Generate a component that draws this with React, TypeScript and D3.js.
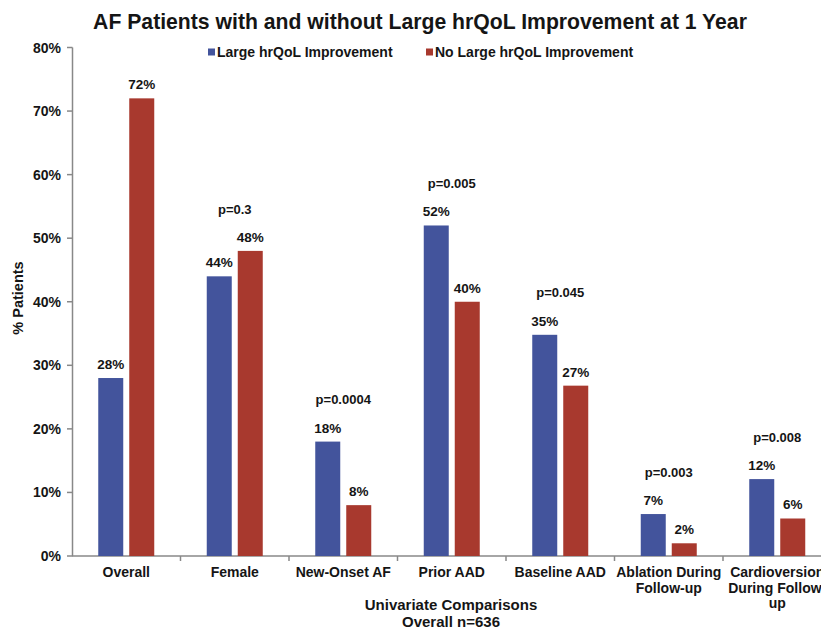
import React from "react";
import * as d3 from "d3";

const categories: string[][] = [
  ["Overall"],
  ["Female"],
  ["New-Onset AF"],
  ["Prior AAD"],
  ["Baseline AAD"],
  ["Ablation During", "Follow-up"],
  ["Cardioversion", "During Follow-", "up"],
];
const largeImprovement = [28, 44, 18, 52, 34.8, 6.6, 12.1];
const noLargeImprovement = [72, 48, 8, 40, 26.8, 2, 5.9];
const largeLabels = ["28%", "44%", "18%", "52%", "35%", "7%", "12%"];
const noLargeLabels = ["72%", "48%", "8%", "40%", "27%", "2%", "6%"];
const pValues = ["", "p=0.3", "p=0.0004", "p=0.005", "p=0.045", "p=0.003", "p=0.008"];
const yTicks = [0, 10, 20, 30, 40, 50, 60, 70, 80];
const seriesNames = ["Large hrQoL Improvement", "No Large hrQoL Improvement"];

const W = 821;
const H = 631;
const BLUE = "#43549c";
const RED = "#a8392e";
const FONT = "Arial, 'Liberation Sans', sans-serif";
const TXT = "#151515";

export default function App() {
  const x0 = 72;
  const band = 108.5;
  const x = d3
    .scaleBand<number>()
    .domain(categories.map((_, i) => i))
    .range([x0, x0 + band * categories.length])
    .paddingInner(0)
    .paddingOuter(0);
  const y = d3.scaleLinear().domain([0, 80]).range([556, 47.5]);
  const barW = 25;
  const gap = 6;

  return (
    <svg
      width={W}
      height={H}
      style={{ position: "absolute", left: 0, top: 0, background: "#fff" }}
      fontFamily={FONT}
    >
      <rect width={W} height={H} fill="#fff" />
      <text x={420} y={29} textAnchor="middle" fontSize={21.2} fontWeight="bold" fill={TXT}>
        AF Patients with and without Large hrQoL Improvement at 1 Year
      </text>

      {/* legend */}
      <g fontSize={14} fontWeight="bold" fill={TXT}>
        <rect x={208} y={48.5} width={7} height={7} fill={BLUE} />
        <text x={217} y={57}>{seriesNames[0]}</text>
        <rect x={426} y={48.5} width={7} height={7} fill={RED} />
        <text x={435} y={57}>{seriesNames[1]}</text>
      </g>

      {/* y axis */}
      <line x1={72.5} x2={72.5} y1={y(80)} y2={y(0)} stroke="#888" strokeWidth={1.5} />
      {yTicks.map((t) => (
        <g key={t}>
          <line x1={67} x2={72.5} y1={y(t)} y2={y(t)} stroke="#888" strokeWidth={1.5} />
          <text x={61} y={y(t) + 5} textAnchor="end" fontSize={14} fontWeight="bold" fill={TXT}>
            {t}%
          </text>
        </g>
      ))}
      <text
        transform={`translate(23,${298}) rotate(-90)`}
        textAnchor="middle"
        fontSize={14.5}
        fontWeight="bold"
        fill={TXT}
      >
        % Patients
      </text>

      {/* x axis */}
      <line x1={72} x2={W} y1={y(0)} y2={y(0)} stroke="#888" strokeWidth={1.5} />
      {categories.map((_, i) => (
        <line
          key={i}
          x1={(x(i) as number) + band}
          x2={(x(i) as number) + band}
          y1={y(0)}
          y2={y(0) + 5}
          stroke="#888"
          strokeWidth={1.5}
        />
      ))}

      {/* bars */}
      {categories.map((lines, i) => {
        const cx = (x(i) as number) + band / 2;
        const bx = cx - gap / 2 - barW;
        const rx = cx + gap / 2;
        const top = Math.max(largeImprovement[i], noLargeImprovement[i]);
        return (
          <g key={i}>
            <rect x={bx} y={y(largeImprovement[i])} width={barW} height={y(0) - y(largeImprovement[i])} fill={BLUE} />
            <rect x={rx} y={y(noLargeImprovement[i])} width={barW} height={y(0) - y(noLargeImprovement[i])} fill={RED} />
            <text x={bx + barW / 2} y={y(largeImprovement[i]) - 9} textAnchor="middle" fontSize={13.5} fontWeight="bold" fill={TXT}>
              {largeLabels[i]}
            </text>
            <text x={rx + barW / 2} y={y(noLargeImprovement[i]) - 9} textAnchor="middle" fontSize={13.5} fontWeight="bold" fill={TXT}>
              {noLargeLabels[i]}
            </text>
            {pValues[i] && (
              <text x={cx} y={y(top + 6.5) + 4} textAnchor="middle" fontSize={13} fontWeight="bold" fill={TXT}>
                {pValues[i]}
              </text>
            )}
            {lines.map((l, k) => (
              <text key={k} x={cx} y={577 + k * 15.5} textAnchor="middle" fontSize={14} fontWeight="bold" fill={TXT}>
                {l}
              </text>
            ))}
          </g>
        );
      })}

      <text x={451} y={610} textAnchor="middle" fontSize={15} fontWeight="bold" fill={TXT}>
        Univariate Comparisons
      </text>
      <text x={451} y={627} textAnchor="middle" fontSize={15} fontWeight="bold" fill={TXT}>
        Overall n=636
      </text>
    </svg>
  );
}
